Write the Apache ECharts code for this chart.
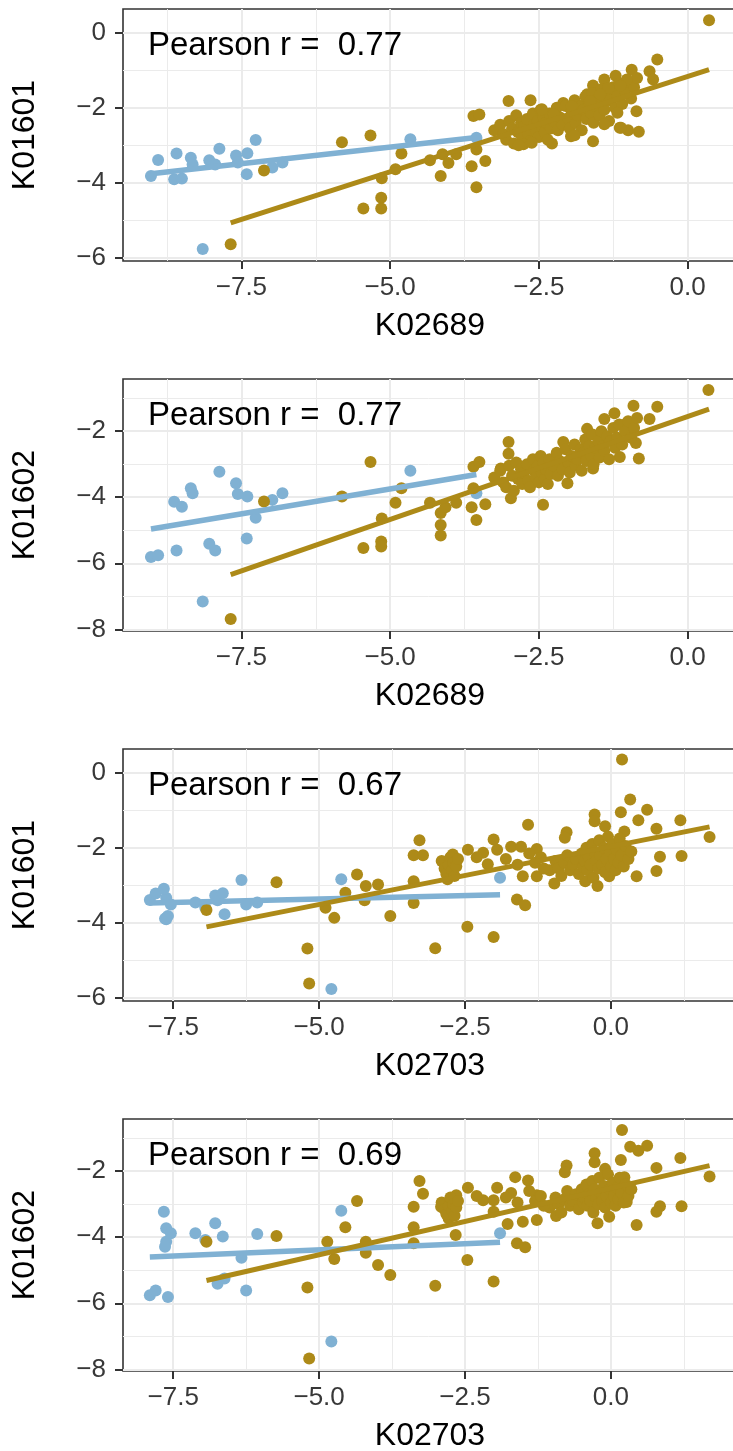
<!DOCTYPE html>
<html><head><meta charset="utf-8">
<script src="https://cdn.jsdelivr.net/npm/echarts@6/dist/echarts.min.js"></script>
<style>html,body{margin:0;padding:0;background:#fff}#c{width:733px;height:1451px}</style>
</head><body><div id="c"></div>
<script>
// ---- Blue group: one value per sample for each variable ----
const blueK02689 = [-9.02,-8.90,-8.63,-8.50,-8.59,-8.35,-8.32,-8.04,-7.94,-7.87,-7.59,-7.56,-7.40,-7.41,-7.26,-6.98,-6.81,-4.66,-8.15,-3.55];
const blueK02703 = [-7.59,-7.90,-7.62,-7.64,-7.80,-7.62,-7.54,-6.74,-6.25,-7.66,-6.78,-6.06,-6.65,-6.62,-6.33,-6.95,-7.12,-4.62,-4.79,-1.90];
const blueK01601 = [-3.82,-3.39,-3.91,-3.89,-3.22,-3.33,-3.51,-3.40,-3.51,-3.09,-3.27,-3.46,-3.21,-3.77,-2.86,-3.59,-3.46,-2.84,-5.77,-2.80];
const blueK01602 = [-5.81,-5.76,-4.14,-4.29,-5.61,-3.73,-3.88,-5.41,-5.61,-3.23,-3.58,-3.90,-3.98,-5.25,-4.62,-4.08,-3.88,-3.20,-7.16,-3.88];

// ---- Olive group, per panel [x, y] ----
const olive1 = [ // K02689 vs K01601
[-7.68,-5.64],[-7.12,-3.67],[-5.81,-2.92],[-5.33,-2.74],[-4.81,-3.22],[-4.91,-3.64],[-5.14,-3.88],[-5.15,-4.40],[-5.15,-4.69],[-5.45,-4.69],
[-4.33,-3.40],[-4.15,-3.82],[-4.12,-3.24],[-4.02,-3.47],[-3.89,-3.24],[-3.60,-2.22],[-3.50,-2.18],[-3.63,-3.56],[-3.55,-3.11],[-3.40,-3.42],
[-3.55,-4.12],[-3.01,-1.82],[-2.64,-1.80],[-2.09,-1.87],[-2.28,-2.95],[-1.96,-2.76],[-1.59,-2.89],[-1.14,-2.53],[-1.00,-2.60],[-0.82,-2.64],
[-0.86,-2.09],[-0.51,-0.71],[-0.64,-1.02],[-0.94,-0.98],[-0.58,-1.24],[-1.21,-1.14],[-1.40,-1.24],[-1.59,-1.40],[-1.69,-1.64],[0.36,0.34],
[-3.25,-2.60],[-3.15,-2.45],[-3.10,-2.70],[-3.05,-2.85],[-3.00,-2.35],[-2.95,-2.55],[-2.92,-2.95],[-2.88,-2.20],[-2.85,-2.65],[-2.80,-2.40],
[-2.78,-2.80],[-2.75,-2.50],[-2.70,-2.30],[-2.68,-2.70],[-2.65,-2.90],[-2.60,-2.15],[-2.58,-2.45],[-2.55,-2.60],[-2.52,-2.35],[-2.50,-2.78],
[-2.47,-2.05],[-2.45,-2.50],[-2.42,-2.25],[-2.40,-2.65],[-2.38,-2.40],[-2.35,-2.85],[-2.32,-2.15],[-2.30,-2.55],
[-2.25,-2.35],[-2.20,-2.00],[-2.18,-2.60],[-2.15,-2.25],[-2.10,-2.45],[-2.05,-1.95],[-2.00,-2.30],[-1.98,-2.55],[-1.95,-2.10],[-1.90,-1.80],
[-1.88,-2.40],[-1.85,-2.20],[-1.80,-1.95],[-1.78,-2.60],[-1.75,-2.05],[-1.72,-1.70],[-1.70,-2.30],[-1.65,-1.85],[-1.62,-2.15],[-1.60,-1.60],
[-1.58,-2.40],[-1.55,-1.95],[-1.50,-1.75],[-1.48,-2.20],[-1.45,-1.50],[-1.42,-1.90],[-1.40,-2.05],[-1.35,-1.65],[-1.32,-2.35],[-1.30,-1.80],
[-1.25,-1.45],[-1.22,-2.00],[-1.18,-1.70],[-1.15,-1.35],[-1.10,-1.90],[-1.05,-1.55],[-1.00,-1.30],[-0.95,-1.75],[-0.90,-1.45],[-0.85,-1.20],
[-1.02,-1.24],[-1.13,-1.41],[-1.33,-1.47],[-1.47,-1.64],[-1.64,-1.82],[-1.95,-1.95],[-1.18,-2.13],[-1.40,-2.44],[-1.12,-2.53],[-1.90,-2.73],
[-2.76,-2.97],[-2.45,-2.04],[-2.25,-2.17],[-2.84,-3.00],[-2.62,-2.93]
];
const olive2 = [ // K02689 vs K01602
[-7.68,-7.69],[-7.12,-4.13],[-5.81,-3.98],[-5.33,-2.93],[-4.81,-3.73],[-4.91,-4.17],[-5.14,-4.64],[-5.15,-5.34],[-5.15,-5.49],[-5.45,-5.54],
[-4.33,-4.17],[-4.15,-4.48],[-4.15,-4.84],[-4.15,-5.16],[-4.07,-4.30],[-3.89,-4.17],[-3.60,-3.08],[-3.50,-2.93],[-3.63,-4.30],[-3.55,-4.69],
[-3.40,-4.21],[-3.60,-3.73],[-3.01,-2.33],[-3.01,-2.68],[-2.97,-4.03],[-2.43,-4.23],[-3.14,-3.13],[-2.09,-2.33],[-2.02,-3.58],[-1.59,-3.13],
[-1.14,-2.78],[-0.82,-2.83],[-0.87,-2.36],[-0.91,-1.23],[-0.51,-1.26],[-0.64,-1.63],[-1.23,-1.46],[-1.40,-1.63],[-1.69,-1.93],[-1.04,-1.78],[0.35,-0.75],
[-3.25,-3.40],[-3.15,-3.20],[-3.10,-3.55],[-3.05,-3.70],[-3.00,-3.05],[-2.95,-3.35],[-2.92,-3.80],[-2.88,-2.95],[-2.85,-3.45],[-2.80,-3.15],
[-2.78,-3.60],[-2.75,-3.25],[-2.70,-3.00],[-2.68,-3.50],[-2.65,-3.70],[-2.60,-2.85],[-2.58,-3.20],[-2.55,-3.40],[-2.52,-3.05],[-2.50,-3.55],
[-2.47,-2.75],[-2.45,-3.25],[-2.42,-2.95],[-2.40,-3.45],[-2.38,-3.15],[-2.35,-3.60],[-2.32,-2.85],[-2.30,-3.30],
[-2.25,-3.05],[-2.20,-2.65],[-2.18,-3.35],[-2.15,-2.90],[-2.10,-3.15],[-2.05,-2.55],[-2.00,-2.95],[-1.98,-3.25],[-1.95,-2.75],[-1.90,-2.40],
[-1.88,-3.05],[-1.85,-2.85],[-1.80,-2.55],[-1.78,-3.20],[-1.75,-2.65],[-1.72,-2.25],[-1.70,-2.90],[-1.65,-2.45],[-1.62,-2.75],[-1.60,-2.10],
[-1.58,-3.00],[-1.55,-2.50],[-1.50,-2.30],[-1.48,-2.80],[-1.45,-2.00],[-1.42,-2.45],[-1.40,-2.60],[-1.35,-2.15],[-1.32,-2.85],[-1.30,-2.30],
[-1.25,-1.90],[-1.22,-2.50],[-1.18,-2.20],[-1.15,-1.80],[-1.10,-2.40],[-1.05,-2.00],[-1.00,-1.70],[-0.95,-2.20],[-0.90,-1.90],[-0.85,-1.60]
];
const olive3 = [ // K02703 vs K01601
[0.19,0.36],[0.33,-0.71],[0.62,-0.98],[0.17,-1.05],[0.47,-1.26],[1.19,-1.26],[1.69,-1.71],[0.78,-1.49],[0.84,-2.24],[1.21,-2.22],
[0.78,-2.62],[0.44,-2.76],[-0.28,-1.11],[-0.28,-1.29],[-0.10,-1.42],[0.23,-1.56],[-0.76,-1.58],[-0.79,-1.73],[-1.42,-1.38],[-1.27,-2.03],
[-1.71,-1.97],[-1.54,-1.97],[-2.01,-1.78],[-2.19,-2.13],[-2.11,-2.44],[-2.71,-2.18],[-2.85,-2.40],[-2.80,-2.84],[-3.28,-1.80],[-3.38,-2.20],
[-3.22,-2.20],[-3.38,-2.89],[-3.38,-3.47],[-3.78,-3.82],[-4.35,-2.71],[-4.20,-3.02],[-3.99,-2.98],[-4.55,-3.20],[-4.22,-3.40],[-4.89,-3.60],
[-4.74,-3.87],[-5.73,-2.92],[-6.93,-3.66],[-5.20,-4.69],[-5.17,-5.62],[-3.01,-4.68],[-2.46,-4.11],[-2.01,-4.38],[-1.61,-3.38],[-1.47,-3.53],
[-1.51,-2.76],[-1.27,-2.76],[-0.97,-2.95],[-0.44,-2.89],[-0.23,-3.02],[-0.03,-2.76],
[-2.90,-2.35],[-2.85,-2.55],[-2.82,-2.70],[-2.78,-2.45],[-2.75,-2.25],[-2.72,-2.60],[-2.70,-2.40],[-2.68,-2.75],[-2.65,-2.50],[-2.62,-2.30],
[-1.05,-2.60],[-0.95,-2.35],[-0.90,-2.55],[-0.85,-2.75],[-0.80,-2.40],[-0.75,-2.20],[-0.70,-2.60],[-0.65,-2.45],[-0.60,-2.30],[-0.55,-2.70],
[-0.50,-2.15],[-0.48,-2.50],[-0.45,-2.35],[-0.42,-2.00],[-0.40,-2.60],[-0.38,-2.25],[-0.35,-2.45],[-0.32,-1.90],[-0.30,-2.80],[-0.28,-2.10],
[-0.25,-2.35],[-0.22,-2.55],[-0.20,-1.80],[-0.18,-2.20],[-0.15,-2.45],[-0.12,-2.00],[-0.10,-2.65],[-0.08,-2.30],[-0.05,-1.70],[-0.02,-2.10],
[0.00,-2.50],[0.03,-1.90],[0.05,-2.30],[0.08,-2.60],[0.10,-2.05],[0.13,-2.40],[0.15,-1.75],[0.18,-2.20],[0.22,-2.50],[0.25,-1.95],
[0.30,-2.30],[0.35,-2.10],[-1.30,-2.40],[-1.20,-2.25],[-1.15,-2.55],[-1.40,-2.15],[-1.60,-2.45],[-1.80,-2.30],[-1.95,-2.05],[-2.30,-2.25],[-2.45,-2.05]
];
const olive4 = [ // K02703 vs K01602
[0.19,-0.75],[0.33,-1.26],[0.62,-1.23],[0.47,-1.38],[0.17,-1.66],[1.19,-1.60],[1.69,-2.16],[0.78,-1.90],[0.84,-3.06],[1.21,-3.06],
[0.78,-3.23],[0.44,-3.63],[-0.28,-1.46],[-0.28,-1.73],[-0.10,-1.93],[0.23,-2.18],[-0.76,-1.83],[-0.79,-2.03],[-1.64,-2.18],[-1.42,-2.28],
[-1.27,-2.73],[-1.27,-3.48],[-1.51,-3.53],[-1.77,-3.60],[-0.94,-3.36],[-2.01,-2.88],[-2.19,-2.88],[-2.01,-3.23],[-2.65,-2.73],[-2.75,-2.90],
[-2.91,-3.08],[-2.78,-3.43],[-2.66,-3.93],[-3.28,-2.30],[-3.22,-2.68],[-3.38,-3.08],[-3.38,-3.70],[-3.38,-4.18],[-3.78,-5.14],[-4.35,-2.90],
[-4.55,-3.70],[-4.20,-4.14],[-4.20,-4.47],[-3.99,-4.84],[-4.86,-4.14],[-4.74,-4.66],[-5.73,-3.96],[-6.93,-4.14],[-5.20,-5.52],[-5.17,-7.67],
[-3.01,-5.47],[-2.46,-4.69],[-2.01,-5.34],[-1.61,-4.18],[-1.47,-4.30],[-0.23,-3.58],[-1.71,-2.66],[0.27,-2.93],[-0.03,-3.38],
[-2.90,-2.95],[-2.85,-3.15],[-2.82,-3.30],[-2.78,-3.05],[-2.75,-2.80],[-2.72,-3.20],[-2.70,-3.00],[-2.68,-3.35],[-2.65,-3.10],[-2.62,-2.90],
[-1.05,-3.10],[-0.95,-2.80],[-0.90,-3.00],[-0.85,-3.25],[-0.80,-2.85],[-0.75,-2.60],[-0.70,-3.05],[-0.65,-2.90],[-0.60,-2.70],[-0.55,-3.15],
[-0.50,-2.55],[-0.48,-2.95],[-0.45,-2.80],[-0.42,-2.40],[-0.40,-3.05],[-0.38,-2.70],[-0.35,-2.90],[-0.32,-2.30],[-0.30,-3.25],[-0.28,-2.55],
[-0.25,-2.80],[-0.22,-3.00],[-0.20,-2.20],[-0.18,-2.65],[-0.15,-2.90],[-0.12,-2.45],[-0.10,-3.10],[-0.08,-2.75],[-0.05,-2.10],[-0.02,-2.55],
[0.00,-2.95],[0.03,-2.35],[0.05,-2.75],[0.08,-3.05],[0.10,-2.50],[0.13,-2.85],[0.15,-2.20],[0.18,-2.65],[0.22,-2.95],[0.25,-2.40],
[0.30,-2.75],[0.35,-2.55],[-1.30,-2.90],[-1.20,-2.75],[-1.15,-3.05],[-1.40,-2.60],[-1.60,-2.95],[-1.80,-2.80],[-1.95,-2.50],[-2.30,-2.75],[-2.45,-2.50]
];

// ---- Linear fit lines (end points) ----
const fitBlue = [
  [[-9.02,-3.76],[-3.55,-2.79]],
  [[-9.02,-4.96],[-3.55,-3.31]],
  [[-7.90,-3.47],[-1.90,-3.25]],
  [[-7.90,-4.60],[-1.90,-4.15]]
];
const fitOlive = [
  [[-7.68,-5.07],[0.36,-0.98]],
  [[-7.68,-6.34],[0.36,-1.33]],
  [[-6.93,-4.11],[1.69,-1.44]],
  [[-6.93,-5.31],[1.69,-1.83]]
];

const pearsonR = ['0.77','0.77','0.67','0.69'];
const xNames = ['K02689','K02689','K02703','K02703'];
const yNames = ['K01601','K01602','K01601','K01602'];
const xTicks = [-7.5,-5,-2.5,0];
const xMinorA = [-8.75,-6.25,-3.75,-1.25];
const xMinorB = [-6.25,-3.75,-1.25,1.25];
const yTicksA = [0,-2,-4,-6];
const yMinorA = [-1,-3,-5];
const yTicksB = [-2,-4,-6,-8];
const yMinorB = [-1,-3,-5,-7];
const xRangeA = [-9.49,0.83], xRangeB = [-8.36,2.16];
const yRangeA = [-6.09,0.64], yRangeB = [-8.05,-0.42];

const BLUE = '#80B1D3', OLIVE = '#AD8A18';
const FONT = 'Liberation Sans, Arial, Helvetica, sans-serif';
const zip = (a,b) => a.map((v,i)=>[v,b[i]]);

const panels = [
  {bx: blueK02689, by: blueK01601, olive: olive1, xr: xRangeA, yr: yRangeA, xMinor: xMinorA, yTicks: yTicksA, yMinor: yMinorA},
  {bx: blueK02689, by: blueK01602, olive: olive2, xr: xRangeA, yr: yRangeB, xMinor: xMinorA, yTicks: yTicksB, yMinor: yMinorB},
  {bx: blueK02703, by: blueK01601, olive: olive3, xr: xRangeB, yr: yRangeA, xMinor: xMinorB, yTicks: yTicksA, yMinor: yMinorA},
  {bx: blueK02703, by: blueK01602, olive: olive4, xr: xRangeB, yr: yRangeB, xMinor: xMinorB, yTicks: yTicksB, yMinor: yMinorB}
];

const xFmt = v => (Math.abs(v) < 1e-9 ? '0.0' : v.toFixed(1).replace('-', '\u2212'));
const yFmt = v => String(v).replace('-', '\u2212');
const TICK_TEXT = '#383838';

const grid = [], xAxis = [], yAxis = [], series = [], graphic = [];
panels.forEach((p, i) => {
  const top = 9 + 370 * i;
  grid.push({left: 123, top: top, width: 614, height: 252, show: true, borderColor: '#333333', borderWidth: 1.6,
             backgroundColor: '#ffffff', containLabel: false, outerBoundsMode: 'none'});
  // major x axis
  xAxis.push({gridIndex: i, type: 'value', min: p.xr[0], max: p.xr[1], position: 'bottom',
    axisLine: {show: false, onZero: false},
    axisTick: {show: true, customValues: xTicks, length: 8, lineStyle: {color: '#333333', width: 2}},
    axisLabel: {customValues: xTicks, formatter: xFmt, fontSize: 26, color: TICK_TEXT, margin: 14, fontFamily: FONT},
    splitLine: {show: true, lineStyle: {color: '#EBEBEB', width: 2}},
    name: xNames[i], nameLocation: 'middle', nameGap: 49,
    nameTextStyle: {fontSize: 32, color: '#000000', fontFamily: FONT}});
  // minor x grid
  xAxis.push({gridIndex: i, type: 'value', min: p.xr[0], max: p.xr[1], position: 'top',
    axisLine: {show: false, onZero: false}, axisTick: {show: false, customValues: p.xMinor}, axisLabel: {show: false},
    splitLine: {show: true, lineStyle: {color: '#EBEBEB', width: 1}}});
  yAxis.push({gridIndex: i, type: 'value', min: p.yr[0], max: p.yr[1], position: 'left',
    axisLine: {show: false, onZero: false},
    axisTick: {show: true, customValues: p.yTicks, length: 8, lineStyle: {color: '#333333', width: 2}},
    axisLabel: {customValues: p.yTicks, formatter: yFmt, fontSize: 26, color: TICK_TEXT, margin: 17, fontFamily: FONT},
    splitLine: {show: true, lineStyle: {color: '#EBEBEB', width: 2}},
    name: yNames[i], nameLocation: 'middle', nameGap: 82, nameRotate: 90,
    nameTextStyle: {fontSize: 32, color: '#000000', fontFamily: FONT}});
  yAxis.push({gridIndex: i, type: 'value', min: p.yr[0], max: p.yr[1], position: 'right',
    axisLine: {show: false, onZero: false}, axisTick: {show: false, customValues: p.yMinor}, axisLabel: {show: false},
    splitLine: {show: true, lineStyle: {color: '#EBEBEB', width: 1}}});

  const xi = 2 * i, yi = 2 * i;
  series.push({type: 'scatter', xAxisIndex: xi, yAxisIndex: yi, data: zip(p.bx, p.by),
    symbol: 'circle', symbolSize: 12, itemStyle: {color: BLUE, opacity: 1}, silent: true, z: 2});
  series.push({type: 'scatter', xAxisIndex: xi, yAxisIndex: yi, data: p.olive,
    symbol: 'circle', symbolSize: 12, itemStyle: {color: OLIVE, opacity: 1}, silent: true, z: 3});
  series.push({type: 'line', xAxisIndex: xi, yAxisIndex: yi, data: fitBlue[i], showSymbol: false, symbol: 'none',
    lineStyle: {color: BLUE, width: 5.5}, silent: true, z: 4});
  series.push({type: 'line', xAxisIndex: xi, yAxisIndex: yi, data: fitOlive[i], showSymbol: false, symbol: 'none',
    lineStyle: {color: OLIVE, width: 5}, silent: true, z: 5});

  graphic.push({type: 'text', x: 148, y: 46 + 370 * i, z: 100,
    style: {text: 'Pearson r =  ' + pearsonR[i], fontSize: 33, fontFamily: FONT, fill: '#000000', verticalAlign: 'middle', align: 'left'}});
});

const chart = echarts.init(document.getElementById('c'), null, {renderer: 'canvas'});
chart.setOption({animation: false, backgroundColor: '#ffffff', grid, xAxis, yAxis, series, graphic});
</script></body></html>
